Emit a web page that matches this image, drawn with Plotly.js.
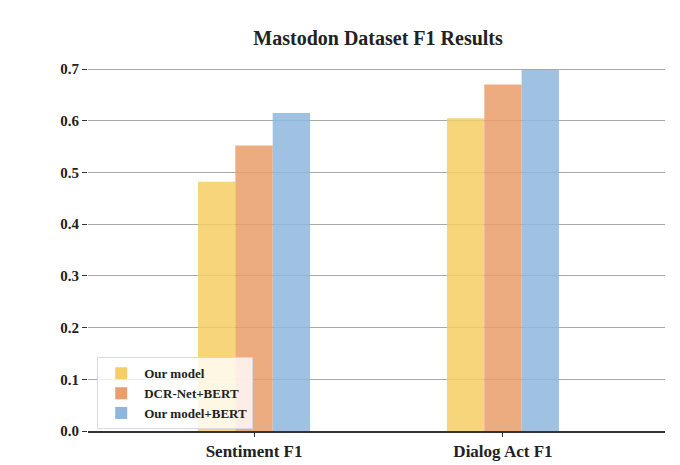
<!DOCTYPE html>
<html>
<head>
<meta charset="utf-8">
<script src="https://cdn.plot.ly/plotly-3.0.1.min.js"></script>
<style>html,body{margin:0;padding:0;background:#fff;}#chart{width:680px;height:465px;}</style>
</head>
<body>
<div id="chart"></div>
<script>
const categories = ["Sentiment F1", "Dialog Act F1"];
const seriesNames = ["Our model", "DCR-Net+BERT", "Our model+BERT"];
const ourModel = [0.482, 0.605];
const dcrNetBert = [0.552, 0.670];
const ourModelBert = [0.615, 0.698];
const yTicks = [0.0, 0.1, 0.2, 0.3, 0.4, 0.5, 0.6, 0.7];
const yTickLabels = ["0.0", "0.1", "0.2", "0.3", "0.4", "0.5", "0.6", "0.7"];

const colors = ["#F6CE63", "#EA9E6A", "#8FB7DD"];
const values = [ourModel, dcrNetBert, ourModelBert];
const font = "Liberation Serif, Times New Roman, serif";

const traces = values.map((v, i) => ({
  type: "bar",
  x: categories,
  y: v,
  name: "<b>" + seriesNames[i] + "</b>",
  marker: {color: colors[i], opacity: 0.85, line: {width: 0}},
  hoverinfo: "none"
}));

const layout = {
  width: 680, height: 465,
  margin: {l: 88, r: 15, t: 55, b: 34},
  paper_bgcolor: "#fff", plot_bgcolor: "#fff",
  font: {family: font, color: "#222"},
  title: {text: "<b>Mastodon Dataset F1 Results</b>", font: {family: font, size: 20, color: "#222"},
          x: 0.556, xanchor: "center", y: 0.918, yanchor: "middle"},
  barmode: "group",
  bargap: 0.55, bargroupgap: 0,
  xaxis: {
    range: [-0.667, 1.651],
    showgrid: false, zeroline: false,
    showline: true, linecolor: "#333", linewidth: 2,
    ticks: "outside", ticklen: 4, tickcolor: "#333", tickwidth: 1,
    tickfont: {family: font, size: 17, color: "#222"},
    tickprefix: "<b>", ticksuffix: "</b>"
  },
  yaxis: {
    range: [0, 0.7272],
    tickvals: yTicks, ticktext: yTickLabels.map(t => "<b>" + t + "</b>"),
    showgrid: true, gridcolor: "#a8a8a8", gridwidth: 1,
    zeroline: false, showline: false,
    ticks: "outside", ticklen: 5, tickcolor: "#333", tickwidth: 1,
    tickfont: {family: font, size: 15, color: "#222"}
  },
  showlegend: true,
  legend: {
    x: 0.016, y: 0.196, xanchor: "left", yanchor: "top",
    bgcolor: "rgba(255,255,255,0.8)", bordercolor: "#d8d8e8", borderwidth: 1,
    font: {family: font, size: 13, color: "#222"},
    tracegroupgap: 0, itemwidth: 36
  }
};

Plotly.newPlot("chart", traces, layout, {displayModeBar: false, staticPlot: true});
</script>
</body>
</html>
